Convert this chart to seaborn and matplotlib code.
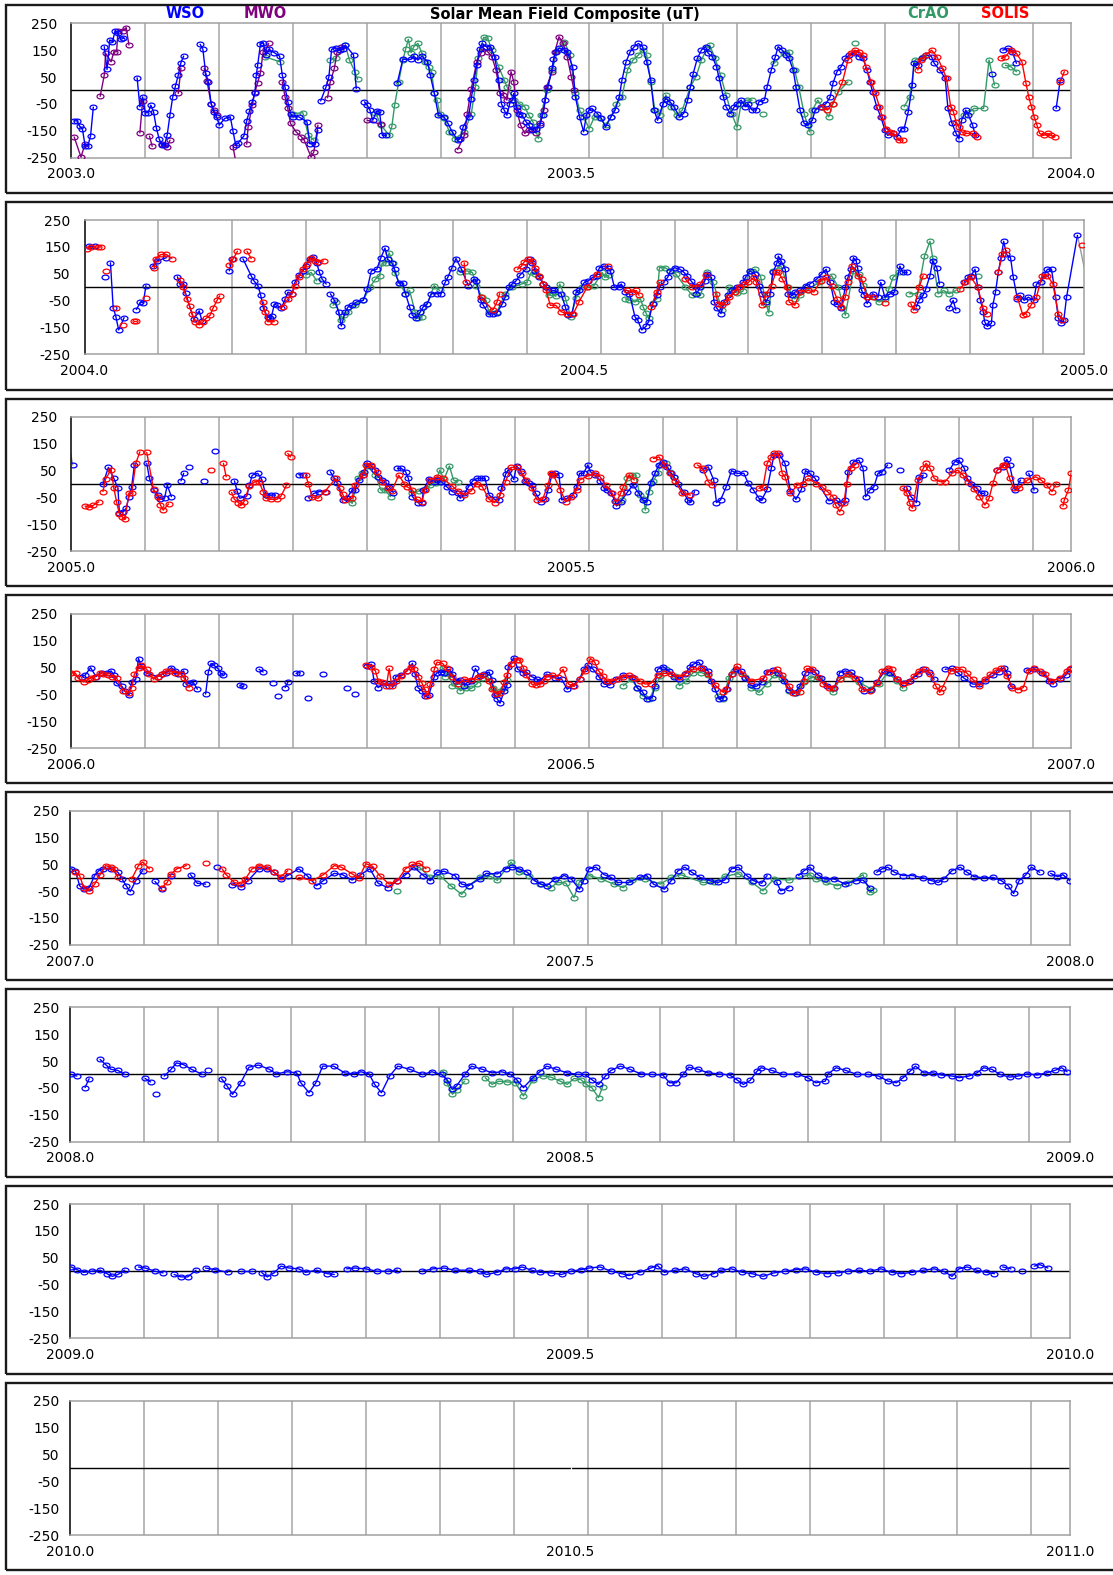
import numpy as np
import pandas as pd
import matplotlib
matplotlib.use("Agg")
import matplotlib.pyplot as plt
import seaborn as sns
from matplotlib.path import Path
from matplotlib.transforms import Affine2D
from matplotlib.patches import Rectangle

# ---------------- data: (day of year, field in uT); None = gap ----------------
WSO_2003 = [(1,-113),(2,-113),(3,-133),(4,-142),(5,-206),(6,-206),(7,-169),(8,-62), None,
    (12,163),(13,78),(14,188),(15,182),(16,223),(17,213),(18,190),(19,194), None,
    (24,47),(25,-61),(26,-24),(27,-83),(28,-83),(29,-55),(30,-80),(31,-139),(32,-179),(33,-204),(34,-204),
    (35,-164),(36,-90),(37,-24),(38,17),(39,56),(40,104),(41,128), None,
    (47,172),(48,153),(49,66),(50,32),(51,-49),(52,-80),(53,-98),(54,-129),(56,-104),(58,-98),(59,-152),
    (60,-204),(61,-194),(63,-169),(64,-113),(65,-77),(66,-42),(67,-11),(67.5,57),(68,94),(69,172),(70,178),
    (71,132),(72,153),(74,141),(76,128),(77,57),(78,11),(79,-42),(80,-86),(81,-98),(83,-98),(86,-117),
    (87,-198),(89,-200),(90,-148), None,
    (91,-39),(93,14),(94,51),(95,153),(96.5,159),(98,150),(99,153),(100,169),(103,132),(104,7), None,
    (107,-42),(108,-55),(109,-73),(110,-111),(111.5,-76),(112.5,-80),(113.5,-167),(115,-167), None,
    (119,29),(121,116),(124,116),(125,128),(126.5,113),(128,128),(130,107),(131,57),(132.5,-11),(134,-92),
    (136,-98),(137.5,-123),(139,-154),(141,-185),(142,-179),(143,-136),(145,-98),(146,-30),(147,39),(148,94),
    (149,153),(150,175),(151.5,163),(153,163),(154.5,126),(156,39),(157,-49),(158,-73),(159,-92),(160,-49),
    (161,-36),(161.5,-11),(162.5,-61),(163.5,-86),(164.5,-92),(166,-117),(167,-129),(168,-148),(169.5,-142),
    (171,-129),(172,-92),(173,-36),(174,14),(175.5,82),(176,116),(177,145),(178,157),(180,150),(181,144),
    (183,88),(184,-24),(185.5,-98),(187,-154),(188,-92),(189,-73),(190,-67),(192,-86),(193.5,-104),(195,-136),
    (197,-98),(198.5,-73),(200,-24),(201,39),(202.5,107),(204,144),(205.5,163),(207,175),(208.5,163),(210,107),
    (211.5,39),(212.7,-73),(214,-111),(216,-49),(217,-30),(218.5,-42),(220,-61),(222,-98),(223.5,-86),(225,-36),
    (226,14),(227,63),(228.5,119),(230,150),(231.5,163),(232.5,138),(234,126),(235.5,88),(236.5,45),(238,-24),
    (239,-61),(240.5,-86),(242,-61),(243,-49),(244.5,-36),(246,-61),(247,-49),(248.5,-73),(250,-73),(251,-42),
    (253,-36),(254,14),(255.5,76),(257,126),(258,163),(259.5,150),(261,132),(262,119),(263.5,76),(264.5,14),
    (266,-73),(267.5,-123),(269,-129),(270.5,-111),(271.5,-73),(273.5,-61),(275.5,-49),(277,-24),(278,26),
    (279.5,70),(281,88),(282.5,119),(284,132),(286,138),(287.5,126),(289,119),(290.5,76),(291.5,32),(292.5,-5),
    (294,-61),(295.5,-98),(297,-148),(298,-167),(300,-160),(301.5,-173),(303,-142),(304,-142),(305.5,-80),
    (307,20),(307.5,101),(309,95),(310.5,119),(312,132),(314,126),(315,101),(317,76),(319,45),(320,-67),
    (321.5,-123),(323,-160),(324,-179),(325,-111),(326.5,-73),(327.5,-92),(329,-129),(330,-167), None,
    (336,63), None, (340,150),(342,157),(343.5,144),(345,101), None, (359.5,-67),(361,39)]

MWO_2003 = [(1,-173),(3.5,-248),(5,-198), None,
    (10.5,-22),(12,57),(12.5,138),(14.5,107),(15.5,144),(16.5,144),(17,223),(19,223),(20,234),(21,169), None,
    (25,-158),(26,-39), None, (28.5,-170),(29.5,-208), None, (33,-198),(35,-210),(36,-185), None,
    (39,-11),(40,82), None,
    (48.5,82),(49.5,35),(51,-49),(52,-73),(53,-90), None, (59,-210),(60,-265), None,
    (64,-200),(64.5,-136),(66,-55),(67,-5),(68,29),(69,66),(70,144),(71,153),(72,175), None,
    (77,32),(78,-24),(79,-67),(80,-123),(82,-154),(84,-173),(85,-185),(87.5,-248),(88.5,-229),(90,-129), None,
    (93.5,-27),(94.5,32),(96,82),(97,144),(98.5,163), None, (108,-111),(113,-126), None,
    (141,-220),(143.5,-167),(144.5,-86),(146,7),(148,107),(149.5,138),(150.5,157),(152,144),(153.5,126),
    (155,76),(156.5,-11),(157.5,-17),(159,-36),(160.5,70),(161.5,32),(162.5,-73),(164,-129),(165.5,-160),
    (167,-148),(168,-142),(169.5,-158),(171,-123),(172.5,-73),(173.5,14),(175.5,70),(176.5,144),(178,200),
    (179.5,175),(181,126),(182.5,51),(183.5,1)]

CRAO_2003 = [(70.5,126),(76,107), None, (81,-86),(84.5,-83),(86.5,-167),(88.5,-185), None,
    (94.5,113),(96.5,119),(100,169),(101.5,113),(103.5,70),(104.5,42), None,
    (111,-83),(113,-129),(116,-167),(117,-133),(118,-55),(119.5,32),(121,113),(122,153),(123,190),(124,141),
    (125,163),(126.5,175),(128,138),(129,107),(130.5,88),(131.5,70),(132.5,-11),(133.5,-36),(134.5,-86),
    (136,-104),(138,-154),(140,-179),(143.5,-154),(146,-86),(147.5,14),(148.5,119),(150.5,198),(152,194),
    (153.5,150),(156,88),(158,39),(159,14),(161.5,-36),(163.5,-49),(165.5,-61),(167,-92),(168.5,-117),
    (170.5,-179),(171.5,-92),(173.5,1),(175.5,76),(177.5,150),(180,182),(182,132),(184,-11),(185.5,-73),
    (187,-98),(189,-142),(191,-98),(193,-104),(195,-129),(197,-98),(199,-49),(201,-24),(203,76),(205,113),
    (207,132),(208.5,150),(210,132),(211.5,32),(213,-73),(215,-92),(217,-17),(219,-61),(221,-92),(223,-73),
    (226,14),(228,51),(230,113),(232,157),(233,169),(235,119),(237,57),(239,-17),(241,-86),(243,-136),
    (244.5,-49),(246.5,-36),(248.5,-36), None, (252.5,-86), None,
    (256.5,101),(260,138),(262,144),(264,76),(265.5,14),(267.5,-86),(269.5,-154),(270.5,-73),(272.5,-36),
    (274,-61),(276.5,-98),(278,-49),(280,-5),(283.5,32), None, (286,175), None,
    (304,-61),(306,-24),(308,113),(311,126), None,
    (326,-92),(328,-80),(329.5,-67),(333,-67),(335,113),(337,20), None, (341,94),(343,88),(345,70)]

SOLIS_2003 = [(274,-61),(276,-73),(278,-49),(281.5,32),(283.5,113),(284.5,138),(286,150),(287.5,144),
    (289,132),(290,88),(292,32),(293.5,-11),(295,-61),(296,-98),(297.5,-142),(299,-154),(300,-160),(302,-185),
    (303.5,-185), None,
    (309,76),(310,113),(312,132),(314,150),(316,126),(318,82),(319.5,45),(321,-61),(322,-80),(323,-117),
    (324,-136),(325,-154),(326.5,-160),(329,-160),(330.5,-173), None,
    (339.5,119),(341,126),(343,150),(345,138),(347,107),(348.5,26),(349.5,-24),(350.5,-61),(351.5,-98),
    (352.5,-129),(353.5,-160),(355,-167),(356.5,-160),(357.5,-167),(359,-173), None, (361,32),(362.5,70)]

WSO_2004 = [(1.5,155),(4,155), None, (7.5,39), None, (9.5,91),(10.5,-76),(11.5,-110),(12.5,-159),(14.5,-113), None,
    (19,-83),(20.5,-55),(21.5,-59),(22.5,6), None, (25,79),(26.5,98),(30,110), None,
    (34,39),(35,12),(36,12),(37,-22),(40,-120),(42,-88),(43,-125), None,
    (53,61),(54,104), None, (58,106),(61,43),(62,24),(63.5,6),(64.5,-30),(65.5,-79),(67,-110),(68,-116),
    (68.5,-107),(69.5,-63),(70.5,-67),(72,-79),(73.5,-43),(74.5,-18),(76,-24),(77,18),(78.5,46),(80,61),
    (81,79),(82.5,107),(83.5,112),(85,91),(86,55),(87,30),(88.5,12), None,
    (90,-24),(91.5,-49),(93,-91),(94,-144),(95.5,-91),(96.5,-73),(98,-67),(99.5,-55),(102,-49),(103.5,-6),
    (105,61),(107,67),(108.5,110),(110,146),(111,104),(112.5,91),(113.5,67),(115,16),(116.5,15),(117.5,-24),
    (119,-73),(120,-104),(121.5,-116),(123,-91),(124,-73),(125.5,-61),(127,-24),(129,-24),(130.5,-24),
    (132,18),(133,37),(134.5,73),(136,107),(138,67),(140.5,6),(142.5,30),(143.5,24),(145,-49),(146,-67),
    (148,-100),(149.5,-98),(151,-95),(153,-61),(154,-37),(155.5,0),(156.5,12),(158,24),(159.5,46),(161.5,67),
    (163,104),(164,91),(165,61),(166.5,37),(168,12),(169,0),(171,-12),(172,-12),(174.5,-24),(176,-73),
    (177,-104),(178.5,-98),(180,-18),(181,-12),(183,18),(184.5,24),(186,37),(187.5,43),(188.5,73),(190,79),
    (191.5,73),(192.5,61),(194,0),(195.5,0),(196.5,12),(198,-18),(199.5,-24),(201.5,-110),(202.5,-122),
    (204,-159),(205.5,-146),(206.5,-128),(208,-61),(209.5,-30),(210.5,0),(212,18),(213.5,37),(214.5,61),
    (216,73),(218,67),(219.5,55),(220.5,43),(222,24),(223.5,6),(224,-24),(225.5,0),(227,24),(228,49),
    (229.5,37),(230.5,-55),(231.5,-79),(233,-98),(234,-55),(235.5,-30),(237,-12),(239,0),(241,18),(242,37),
    (243.5,61),(245.5,49),(247,6),(248,-24),(249.5,-55),(251,-24),(252,55),(253.5,91),(254,116),(255,98),
    (256.5,67),(257.5,-24),(259,-30),(260,-18),(262,-12),(264,6),(265.5,12),(268,30),(270,51),(271.5,67),
    (273,18),(274.5,-55),(275.5,-61),(277,-79),(278.5,0),(279.5,37),(280.5,67),(281.5,110),(282.5,98),
    (283,73),(284.5,-12),(285.5,-30),(286.5,-61),(288.5,-24),(290.5,-37),(291.5,18),(293,-37),(295,-24),
    (296.5,-18),(298.5,79),(299.5,55),(301,55), None,
    (304.5,-73),(305.5,-49),(307,-30),(308,-6),(309.5,43),(310.5,98),(312,73),(313,12), None,
    (316.5,-79),(318,-49),(319,-85), None,
    (322,18),(323.5,37),(324.5,43),(326,67),(327,0),(328,-49),(329,-91),(329.5,-128),(330.5,-146),(332,-134),
    (332.5,-67),(333.5,-18),(334.5,55),(335.5,110),(336.5,171),(337.5,122),(339,110),(340,37),(341.5,-43),
    (342.5,-30),(344,-49),(345.5,-37),(347.5,-49),(348.5,12),(350,18),(351.5,49),(352.5,67),(354,67),
    (355.5,-37),(356.5,-116),(357.5,-134),(358.5,-122),(359.5,-37),(363.5,193)]

SOLIS_2004 = [(1,143),(2.5,149),(5,150),(6,150), None, (8,59), None, (11.5,-76), None, (14,-140), None,
    (18,-126),(19,-126), None, (22.5,-39), None, (25.5,70),(26,106),(28,122),(30,122),(32,107), None,
    (35,27),(36,2),(37.5,-45),(38.5,-71),(39.5,-101),(40.5,-128),(42,-140),(43.5,-128),(44.5,-116),(46,-104),
    (47,-79),(48.5,-49),(49.5,-32), None, (53,83),(54.5,107),(56,134), None, (59.5,134),(61,107), None,
    (65.5,-55),(66,-91),(67,-128),(69.5,-128), None,
    (72.5,-73),(74.5,-43),(76,-24),(77,6),(78.5,37),(80,67),(81.5,85),(83,110),(84.5,98),(85.5,95),(87.5,98), None,
    (139,91),(139.5,18), None, (145,-37),(149.5,-85),(151,-55),(152,-24), None,
    (158.5,67),(160,79),(161,95),(162.5,104),(164,98),(165,73),(166.5,43),(168,12),(169,-12),(170.5,-67),
    (172.5,-67),(174.5,-91),(176.5,-98),(179,-98),(181,-55),(184,0),(187.5,51), None, (191.5,79), None,
    (198.5,-12),(200.5,-18),(202,-12),(203,-30), None, (207.5,-73),(209.5,-18),(210.5,18), None,
    (220,30),(222.5,0),(225.5,12),(227.5,46), None,
    (231,-24),(232,-61),(233.5,-67),(235,-55),(236,-37),(238,-18),(239.5,0),(241.5,12),(243,18),(245,37),
    (246,18),(248,-67),(249.5,-24),(251.5,6),(253,55),(254,55),(255.5,30),(257,0),(258,-55),(260,-67),
    (262,-18),(265,-12),(267,-18),(269.5,24),(271.5,37),(273.5,6),(275.5,-43),(277,-73),(278.5,-37),
    (279.5,18),(281,79),(283,43),(284.5,30),(286.5,-37),(288.5,-37), None, (293,-59), None,
    (302.5,-61),(303.5,-85),(305.5,0),(307,43), None,
    (320.5,-6),(322.5,18),(324.5,37),(327,0),(329,-79),(330.5,-98), None,
    (334.5,55),(336,122),(337.5,137), None,
    (341.5,-37),(343.5,-104),(344.5,-98),(346.5,-67),(348.5,-37),(350.5,43),(352.5,43),(354.5,12),
    (356.5,-98),(358,-122), None, (365,156)]

CRAO_2004 = [(81,46),(83,55),(85,24), None,
    (91,-67),(92,-55),(94,-122),(95,-104),(96.5,-91),(99,-67),(102,-49),(104.5,0),(106.5,30),(108,43),
    (109,91),(110.5,91),(111.5,128),(113,91),(113.5,54),(115.5,12),(117.5,-24),(119,-12),(121,-91),(122,-116),
    (123.5,-110),(125.5,-61),(128,6),(130,-12), None,
    (137.5,55),(140,61),(142,55),(143.5,6),(145.5,-37),(147,-49),(148,-91),(151,-91),(154,-24),(156.5,0),
    (160,12),(162,18),(163.5,55),(165,50),(166.5,43),(168,12),(169,0),(170,-30),(171,-22),(172.5,-34),
    (174,12),(176,-40),(178,-110),(180,-40),(182,0),(184.5,0),(186.5,6),(189.5,55),(190.5,37),(192,45), None,
    (198,-43),(199.5,-48),(201.5,-55),(203.5,-43),(204.5,-73),(205.5,-95),(206.5,-116),(208,-60),(209.5,-43),
    (210.5,73),(212.5,73),(214.5,60),(216.5,49),(220,0),(222.5,-30),(225.5,-30),(228,55),(230,20),
    (233.5,-85),(236,0),(239,-22),(241,-15),(243.5,61),(245.5,67),(247.5,40),(249.5,-61),(250.5,-95),
    (252,61),(255,79),(257.5,0),(260,-43),(262,-30),(265,-10),(269,20),(273.5,43),(276,0),(278.5,-104),
    (281.5,61),(283.5,50),(285,10),(287,-37),(291,-55),(293,-45),(294.5,-6),(296,37),(298,55), None,
    (302,-24),(305,-24),(307.5,116),(309.5,171),(310.5,110),(312.5,-24),(314.5,-12),(316.5,-24),(319,-12), None,
    (327,43)]

COMPOSITE_2004 = [(363.5,193),(366,73)]

WSO_2005 = [(0.5,71), None,
    (11.5,0),(13.5,62),(15.5,21),(17,-16),(17.5,-106),(19,-103),(20,-90),(21,-47),(22,-10),(23,71), None,
    (27.5,77),(28.5,21),(30,-22),(31.5,-41),(32.5,-57),(34,-53),(35,-4),(36.5,-47), None,
    (40,12),(41,40), None, (43,62), None, (48.5,11), None, (52.5,124), None,
    (59.5,12),(60.5,-26),(61.5,-53),(64,-45),(65,-4),(66,33),(68,40),(69.5,17),(71,-41),(73,-41),(74.5,-41), None,
    (83,35),(84.5,33), None, (86.5,-51),(88.5,-35),(90.5,-28),(93,-28), None,
    (94.5,46),(96,21),(97,5),(99,-59),(100.5,-53),(102.5,-22),(103.5,-22),(105,15),(106.5,33),(107,46),
    (108,77),(109.5,67),(111,52),(112,27),(113.5,15),(114.5,9),(116,-10),(117.5,-32), None,
    (119,58),(120.5,58),(122,46),(123,21),(124.5,-47),(126.5,-69),(128,-69),(128.5,-22),(130.5,17),
    (132.5,9),(133.5,15),(135,9),(137,-10),(139,-28),(141,-35),(142,-53),(143.5,-35),(145,-10),(146.5,12),
    (148,21),(149.5,21),(151,21),(152.5,-41),(154.5,-57),(156,-59),(157,-16),(158.5,36),(159.5,54),
    (161.5,17),(162.5,67),(164,50),(165.5,12),(167,5),(168,-4),(169.5,-35),(171.5,-66),(173,-57),(174,-22),
    (175.5,37),(176.5,40),(178,33),(179,-59),(181,-53),(183,-41),(184.5,-10),(185.5,40),(187,40),(188.5,71),
    (189.5,46),(191,33),(193,12),(194.5,-16),(195.5,-22),(197,-35),(198.5,-62),(199,-82),(200.5,-66),
    (203,-30),(205,-4),(207,-32),(208.5,-59),(210,-66),(211.5,5),(213,40),(214.5,71),(216,83),(217.5,64),
    (219,40),(220,27),(221.5,2),(223.5,-30),(225,-59),(226,-66),(227.5,-28), None,
    (230.5,54),(232.5,64),(234.5,15),(235.5,-69),(237,-59),(239,-12),(241,50),(243,40),(245.5,40),(247,5),
    (249,-22),(251,-53),(252,-59),(254,-20),(255.5,58),(256.5,108),(258.5,110),(260.5,77),(262.5,-25),
    (264.5,-57),(266.5,-20),(268,50),(269.5,40),(271.5,21),(276.5,-62),(279,-59),(281,-72),(282.5,-59),
    (283.5,46),(285.5,83),(287.5,89),(289,58),(290,-47),(291.5,-22),(293,-10),(294.5,40),(296,46),(298,71), None,
    (302.5,52), None, (305,-16),(306.5,-47),(308.5,-69),(309.5,27),(311,33), None,
    (320.5,52),(322.5,83),(324,89),(326,58),(327,21),(328.5,2),(330.5,-16),(332,-35),(333,-35), None,
    (338,52),(340,64),(341.5,92),(342.5,71),(344.5,-22),(346.5,15), None, (349.5,40),(351.5,-22)]

SOLIS_2005 = [(5,-82),(6.5,-87),(8,-79),(10,-66), None,
    (11.5,-28),(12.5,19),(14.5,54),(15.5,-16),(16.5,-66),(17.5,-111),(18.5,-121),(19.5,-131),(21,-35),
    (22,-35),(23.5,77),(25,120), None, (27.5,118),(30,-20),(31.5,-47),(32.5,-78),(33.5,-97),(35.5,-74), None,
    (51,54), None, (55.5,77),(56.5,27), None,
    (58.5,-31),(59.5,-57),(61,-69),(62,-78),(63,-66),(65,-7),(67,9),(68.5,9),(70,-28),(71,-53),(73,-57),
    (75,-57),(76.5,-45),(78.5,-5), None, (79,114),(80,101), None,
    (85.5,33),(86.5,2),(88,-50),(90,-53),(92.5,-28),(96.5,21),(98,-16),(99,-37),(100,-59),(102.5,-53),
    (103.5,-4),(106.5,33),(107.5,71),(109.5,71),(111.5,46),(113.5,9),(115.5,-16),(117,-25),(119.5,33),
    (121.5,2),(122.5,-10),(124.5,-22),(126,-57),(128,-66),(129,-22),(131,15),(133.5,27),(135.5,21),(139,-7),
    (141,-25),(143.5,-41),(146,-25),(148,2),(150,-10),(152.5,-57),(154.5,-69),(156.5,-41),(158.5,9),
    (160.5,62),(162.5,62),(164.5,40),(166,15),(168,-16),(170,-59),(172,-57),(174,-4),(175,40),(176,33),
    (178.5,-22),(180.5,-66),(182.5,-50),(184.5,-22),(185.5,15),(188.5,30),(191,40),(193,27),(195,-4),
    (197.5,-35),(199,-66),(200.5,-35),(201.5,-10),(203.5,33),(205.5,15), None,
    (212.5,95),(214.5,101),(216.5,71),(218.5,40),(220.5,12),(223,-35),(226,-41), None,
    (228.5,71),(230.5,58),(232.5,9),(234,-4), None,
    (251,-16),(252.5,-10),(254,77),(255.5,101),(256.5,114),(258,114),(259.5,40),(260.5,27),(262.5,-35),
    (265,-4),(267,2),(269,21),(272,2),(274,-10),(276,-28),(278,-47),(279,-78),(280.5,-103),(282,-72),
    (283,2),(284.5,58),(286,71), None,
    (303.5,-16),(305,-35),(306,-72),(307,-90),(309,15),(311,58),(312,77),(313.5,58),(315,21),(317,9),
    (319,9),(321.5,40),(323.5,52),(325.5,33),(327.5,9),(329.5,-20),(331.5,-47),(333.5,-78),(335,-53),
    (336.5,5),(338,52),(340,71),(341,71),(342.5,21),(344,-16),(346,-16),(349,15),(352,27),(354,15),
    (356,-4),(358,-28),(359.5,2), None, (362,-82),(362.5,-59),(364,-22),(365,40)]

CRAO_2005 = [(100.5,-53),(102.5,-72),(104.5,21),(106,40),(108,67),(111,33),(113,-22),(114.5,-22),(116.5,-47), None,
    (124.5,-35),(127,-25),(129,-20),(131,-5),(133,5),(134.5,52),(136,17),(138,67),(139.5,15),(141,9), None,
    (199.5,-66),(201,-60),(203,21),(204.5,33),(206,33),(207.5,-41),(209,-57),(209.5,-97),(211,-28),
    (212.5,12),(214,40),(215,71),(217,77),(218.5,45),(220,27)]

COMPOSITE_2005 = [(-1,150),(0.5,71)]

WSO_2006 = [(4,16),(5,21),(7,49),(9,16),(11,31),(13,28),(14.5,37),(15.5,21),(16.5,-9),(18.5,-21),
    (19.5,-37),(21,-53),(22,-4),(23.5,6),(24.5,83),(25.5,55),(27.5,28),(31.5,16),(33,25),(34.5,31),
    (36.5,49),(38,37),(39,25),(41,37),(42,-12),(43,-9),(44.5,-6),(46,-31), None,
    (49,-49),(50,33),(51,65),(52,58),(53.5,46),(54.5,28),(55.5,21), None, (61.5,-16),(62.5,-21), None,
    (68.5,43),(70,33), None, (73.5,-9), None, (75.5,-58), None, (78,-25),(79,-6), None, (82,28),(83.5,31), None,
    (86.5,-63), None, (92,25), None, (100.5,-25), None, (103.5,-49), None,
    (108,55),(109.5,62),(110.5,0),(112,-25),(114,-9),(116,-18),(117.5,-9),(118.5,16),(120.5,21),(122.5,37),
    (124.5,65),(125.5,25),(126.5,-25),(128,-37),(129,-58),(130.5,-53),(132.5,16),(133.5,31),(135,33),
    (136,31),(138,43),(139,25),(140.5,0),(142,4),(143.5,-18),(144.5,-6),(146,0),(147.5,46),(149,18),
    (150.5,25),(152.5,33),(153.5,4),(154.5,-53),(155.5,-68),(156.5,-83),(158,-37),(159,-16),(159.5,53),
    (161.5,86),(163,43),(165,31),(166,33),(168,16),(170,6),(171,0),(173.5,25),(176.5,12),(179,6),(181,-31),
    (183,-18),(185.5,6),(187,43),(188.5,58),(190.5,43),(192.5,16),(194.5,-12),(196.5,-16),(199,6),(201.5,21),
    (204.5,16),(206.5,-25),(208.5,-41),(210,-68),(212,-62),(213,-18),(214,43),(216,53),(218,37),(220,16),
    (222,6),(224,25),(226,53),(227,62),(229,70),(230.5,49),(232.5,37),(233.5,0),(235,-31),(236.5,-68),
    (238,-62),(239.5,-31),(241,25),(242.5,43),(244.5,37),(246,12),(248,-16),(250,-21),(252,-6),(254,33),
    (256,40),(258,31),(260,0),(262,-33),(264,-46),(266,-18),(268,31),(269.5,40),(271.5,33),(273.5,9),
    (276,-18),(278.5,-25),(280.5,31),(282.5,37),(284.5,33),(287.5,6),(289.5,-37),(292,-33),(294,-6),(297,37),
    (299,31),(301.5,6),(304,-9),(306,0),(309,25),(311,43),(313,33),(315,6), None,
    (319,43),(321.5,46),(323.5,31),(326,9),(329,-12),(331.5,-12),(333.5,0),(336.5,21),(338.5,33),(340.5,49),
    (341.5,31),(343,-18), None, (349,40),(351.5,43),(354.5,31),(357,0),(358.5,-12), None,
    (361,6),(363,21),(364.5,43)]

SOLIS_2006 = [(0,31),(1.5,28),(2.5,9),(4.5,-4),(6,4),(7,12),(8.5,16),(10.5,28),(11.5,25),(13.5,21),(15,16),
    (16.5,9),(19,-37),(21,-46),(22,-25),(23,25),(24.5,46),(25.5,58),(27.5,43),(28.5,25),(30,6),(31.5,16),
    (33,25),(34.5,37),(36,37),(38,31),(40,25),(41,12),(43,-25), None,
    (107.5,58),(109.5,53),(111,37),(112,0),(113.5,-6),(115,-18),(116,46),(117,-21),(118.5,0),(120.5,18),
    (122.5,37),(124,53),(125,43),(126.5,16),(128,-9),(129,-31),(130,-58),(131,-12),(132.5,43),(133.5,70),
    (135.5,65),(137,46),(139,16),(141,-12),(143.5,6),(146,4),(148.5,16),(150,21),(152.5,0),(153.5,-31),
    (155,-49),(156.5,-46),(158,-4),(159,21),(160.5,62),(162.5,78),(163.5,78),(165,49),(166,21),(168,-12),
    (169.5,-16),(171,-12),(172.5,0),(173.5,16),(175.5,21),(177.5,16),(179.5,43),(181.5,-12),(183.5,-21),
    (185.5,6),(187.5,37),(189.5,83),(191,70),(192.5,37),(194,18),(195.5,0),(197.5,0),(199.5,6),(201.5,16),
    (203.5,21),(205.5,12),(207.5,0),(209.5,-12),(211.5,-10),(214,21),(216.5,28),(219,25),(222,16),
    (224.5,28),(227,43),(230,46),(232.5,25),(235,-16),(238,-43),(239,-31),(241,25),(243,55),(245,25),
    (248,0),(252.5,9),(254.5,33),(257.5,43),(259.5,21),(262,-18),(263.5,-46),(266,-41),(267.5,0),(268.5,46),
    (270.5,43),(272.5,16),(274.5,-12),(276.5,-25),(278,-28),(280.5,6),(283.5,25),(286,12),(288.5,-31),
    (291.5,-37),(294,-9),(296,37),(298,49),(299.5,43),(301.5,6),(303.5,-12),(305.5,-6),(307.5,18),
    (309.5,37),(311.5,43),(313.5,25),(315.5,-18),(317,-43),(318,-25),(321,37),(323,43),(325,43),(327,28),
    (329,6),(331.5,-18),(333.5,6),(335.5,25),(337.5,40),(339.5,46),(341.5,18),(343.5,-25),(345.5,-33),
    (347.5,-25),(349.5,37),(351.5,46),(353.5,37),(355.5,25),(357.5,0),(361,9),(363.5,37),(365,46)]

CRAO_2006 = [(135.5,49),(136.5,16),(138,25),(139,-18),(141,-21),(142,-37),(144,-25),(146,-28),(148,-12),
    (150,12),(152,15),(154,-25),(155.5,-46),(156.5,-37),(158,-25),(159,4), None,
    (201.5,-18),(204.5,6),(206.5,-25),(208.5,-55),(211,-68),(213,-25),(215,18),(217,43),(220.5,18),
    (222,-18),(224.5,0),(227,31),(230,31),(232.5,20),(236,-55),(238,-68),(240,12),(242,37),(246,15),
    (248,-25),(251,-43),(254,-10),(256.5,21),(259.5,10),(262,-37),(264.5,-46),(267.5,-5),(270,12),(273,12),
    (278,-43),(280.5,6),(284.5,20),(287.5,-5),(292,-31),(295,-10),(298,31),(301.5,0),(303.5,-28)]

WSO_2007 = [(0.5,33),(2,26),(3.5,-30),(5,-43),(7,-37),(9,8),(10.5,26),(12,33),(15,33),(17.5,20),(19,-5),
    (20.5,-30),(22,-52),(24,-11),(26.5,26), None, (31,-14),(33.5,-43), None, (37,8), None,
    (44,11),(46.5,-21),(49.5,-24), None, (53.5,39), None,
    (59,-26),(62.5,-34),(65,-11),(69,33),(72,33),(74.5,20),(77,-5),(79.5,8),(83.5,33),(86.5,8),(90,-30),
    (92.5,-11),(96.5,16),(99.5,11),(103,-9),(106,11),(109.5,33),(112.5,-21),(116,-37),(119.5,-11),
    (122.5,11),(125.5,39),(129,8),(131.5,-11),(134,20),(136.5,24),(140.5,8),(143,-24),(145.5,-30),
    (149.5,-5),(152,16),(156,14),(159,33),(161.5,39),(164,33),(167,20),(169.5,-11),(172,-24),(174,-30),
    (177,-5),(180.5,8),(183,-5),(186,-43),(187.5,-11),(189.5,33),(192,39),(195,11),(197.5,1),(200,-18),
    (204,-18),(208,1),(210.5,8),(213,-24),(217,-43),(219.5,-11),(222,26),(224.5,39),(227,20),(230,1),
    (233.5,-11),(236.5,-18),(239,-9),(241.5,33),(244,39),(247,8),(249.5,-11),(252.5,-21),(254.5,8), None,
    (258,-18),(259.5,-49),(262.5,-37), None,
    (266,8),(268,26),(270,39),(273,11),(275.5,-5),(279,-5),(283,-24),(287,-11),(289.5,-9),(292,-37), None,
    (294.5,20),(296.5,33),(298.5,39),(301,20),(304,8),(307.5,8),(311.5,-1),(314.5,-11),(317,-18),(319,-5),
    (322,26),(325,39),(327.5,20),(330,4),(333.5,-1),(337,1),(340,-11),(342.5,-30),(344.5,-59),(346.5,-11),
    (349,11),(351,39),(354,20), None, (358,16),(360.5,4),(362.5,11),(365,-11)]

SOLIS_2007 = [(2,20),(3.5,8),(5,-37),(7,-49),(9,-24),(11,11),(13,45),(15,39),(16,33),(17.5,1), None,
    (22.5,-5),(25,45),(26.5,58),(29,33), None, (33.5,-37),(35.5,-18),(37,14),(39,33),(42.5,45), None,
    (49.5,54), None,
    (55.5,33),(57,11),(60,-18),(62.5,-24),(64,-5),(66.5,33),(69,45),(72,39),(74.5,20),(77,4),(79.5,26), None,
    (83.5,1),(88.5,-11),(92.5,11),(96.5,45),(99,39),(103,14),(105.5,-1),(108,52),(110.5,42),(113,8),
    (116.5,-24),(119.5,-11),(122.5,33),(125,49),(127.5,54),(130,33)]

CRAO_2007 = [(119.5,-49), None,
    (127.5,39),(131.5,1),(135,8),(139,-30),(143,-62),(145.5,-30),(149.5,1),(153.5,5),(156,-10),(161,58),
    (164,20),(167.5,8),(171.5,-24),(175.5,-37),(178,-18),(181,-20),(184,-74),(186,-15),(189.5,8),(194,-5),
    (198.5,-24),(202,-37),(205,-10),(210,-5),(215.5,-24),(219.5,1),(223,11),(231,-18),(235,-18),(239,5),
    (244,15),(249,-18),(253,-49),(257,-5),(262.5,-9),(270,11),(272.5,-5),(276,-18),(280,-30),(284,-20),
    (289.5,11),(292,-55),(293,-45)]

WSO_2008 = [(0.5,0),(2.5,-6), None, (5.5,-49),(7,-16), None,
    (11,56),(13,37),(15,19),(17.5,15),(20,0), None, (27.5,-15),(29.5,-28), None, (31.5,-74), None,
    (34.5,-6),(37,19),(39,43),(41.5,37),(44.5,19),(48.5,0), None, (50.5,15), None,
    (55.5,-16),(57.5,-43),(59.5,-74),(62.5,-31),(65.5,27),(69,35),(73,19),(75.5,2),(79.5,10),(83,6),
    (84.5,-31),(87.5,-68),(90,-31),(92.5,31),(96.5,31),(100.5,6),(104,2),(106.5,10),(109.5,2),(111.5,-37),
    (114,-68),(117,-6),(120,31),(124.5,19),(129,0),(132.5,10),(136,0),(138,-19),(140,-56),(141.5,-43),
    (144.5,0),(147,31),(151,19),(154.5,6),(158,10),(161,2),(163.5,-19),(166,-49),(169.5,-12),(172,10),
    (174.5,31),(178,19),(182,6),(186,0),(188.5,0),(191,-19),(193.5,-37),(196,-6),(198,15),(201.5,31),
    (205,19),(209,2),(213,0),(217,-2),(219.5,-31),(222,-31),(224.5,0),(226.5,27),(230,19),(233.5,6),
    (237.5,2),(241.5,-2),(244,-19),(246.5,-37),(249,-22),(251.5,12),(253,25),(257,15),(261,0),(266,2),
    (270,-12),(273,-31),(276.5,-25),(277.5,2),(280.5,25),(284,15),(288,0),(292,0),(296,-6),(299.5,-25),
    (302.5,-31),(305,-12),(307.5,12),(309.5,31),(312.5,6),(316,6),(319,-2),(323,-6),(325.5,-12),(329,-6),
    (332,6),(334.5,25),(337.5,19),(340.5,0),(344,-10),(347,-6),(350.5,2),(354,-2),(357.5,6),(360.5,15),
    (363,25),(365,10)]

CRAO_2008 = [(136.5,10),(138,-31),(140,-74),(141.5,-59),(144.5,-25), None,
    (152,-12),(154.5,-37),(157,-25),(160,-28),(163,-30),(166,-80),(169.5,-19),(173,-5),(176,-10),
    (179.5,-25),(182,-37),(184.5,-15),(187,-19),(189,-37),(191,-49),(193.5,-86),(195,-45)]

WSO_2009 = [(0.5,16),(2.5,6),(5,-4),(8,0),(11,4),(13.5,-9),(15.5,-19),(17.5,-12),(20,4), None,
    (25,16),(27.5,12),(31,0),(34,-6), None, (38,-12),(40.5,-21),(43,-21),(46,4), None,
    (49.5,12),(53,6),(57.5,-4), None, (62.5,0),(66.5,0), None,
    (70,-5),(72,-21),(74.5,-6),(77,19),(80,12),(83.5,9),(86,-4),(90,4),(94,-9),(96.5,-12), None,
    (101,9),(104,12),(108,9),(112,0),(116,0),(119.5,4), None,
    (128.5,0),(132.5,9),(136.5,12),(140.5,4),(145.5,4),(149.5,0),(152,-12),(156,-4),(159,9),(162.5,9),
    (165,16),(168.5,4),(171.5,-4),(175.5,-6),(179.5,-12),(183,0),(186.5,6),(189.5,12),(193.5,16),(197.5,0),
    (201.5,-9),(204,-16),(208,-4),(212,12),(214.5,21),(217,-4),(221,4),(224.5,9),(228.5,-9),(231.5,-19),
    (235,-9),(237.5,4),(241.5,9),(245.5,-4),(249,-9),(253,-19),(257,-6),(261,0),(265,6),(268.5,9),
    (272.5,-4),(276.5,-9),(280.5,-6),(284,0),(288,4),(292,0),(296,9),(300,-4),(303.5,-9),(307.5,-4),
    (311.5,4),(315.5,9),(319,0),(322,-19),(324.5,9),(327.5,16),(331,4),(334.5,-4),(337.5,-9), None,
    (340.5,16),(343.5,9), None, (347.5,0), None, (352,19),(354,25),(357,12)]

MARK_2010 = [(183,-8)]

YEARS = [2003, 2004, 2005, 2006, 2007, 2008, 2009, 2010]
PANELS = {
    2003: {"CrAO": CRAO_2003, "MWO": MWO_2003, "WSO": WSO_2003, "SOLIS": SOLIS_2003},
    2004: {"CrAO": CRAO_2004, "WSO": WSO_2004, "SOLIS": SOLIS_2004},
    2005: {"CrAO": CRAO_2005, "WSO": WSO_2005, "SOLIS": SOLIS_2005},
    2006: {"CrAO": CRAO_2006, "WSO": WSO_2006, "SOLIS": SOLIS_2006},
    2007: {"CrAO": CRAO_2007, "WSO": WSO_2007, "SOLIS": SOLIS_2007},
    2008: {"CrAO": CRAO_2008, "WSO": WSO_2008},
    2009: {"WSO": WSO_2009},
    2010: {},
}
COMPOSITE = {2004: COMPOSITE_2004, 2005: COMPOSITE_2005}
COLORS = {"WSO": "#0000ff", "MWO": "#800080", "CrAO": "#339966", "SOLIS": "#ff0000"}

# ---------------- helpers ----------------
def to_frame(points):
    rows, seg = [], 0
    for p in points:
        if p is None:
            seg += 1
            continue
        rows.append((p[0], p[1], seg))
    return pd.DataFrame(rows, columns=["day", "value", "seg"])

ELLIPSE = Affine2D().scale(1.45, 1.0).transform_path(Path.unit_circle())

sns.set_theme(style="white")
plt.rcParams["font.family"] = ["DejaVu Sans"]

W, H = 1113, 1575
fig = plt.figure(figsize=(W / 100, H / 100), dpi=100)

PITCH = 196.8
lefts = [71.4, 84.5, 71.4, 71.4, 70.0, 70.0, 70.0, 70.0]
for i, yr in enumerate(YEARS):
    top = 23.3 + i * PITCH
    hgt = 134.3
    left = lefts[i]
    wid = 999.8
    ftop = 5 + i * PITCH
    fig.patches.append(Rectangle((6.4 / W, 1 - (ftop + 187.7) / H), (1125 - 6.4) / W, 187.7 / H,
                                 transform=fig.transFigure, fill=False, lw=1.7, ec="#1a1a1a", zorder=0))
    ax = fig.add_axes([left / W, 1 - (top + hgt) / H, wid / W, hgt / H])
    ndays = 366 if yr % 4 == 0 else 365
    ax.set_xlim(0, ndays)
    ax.set_ylim(-250, 250)
    ax.set_axisbelow(True)
    ax.set_xticks([27 * k for k in range(1, 14) if 27 * k < ndays], minor=True)
    ax.grid(which="minor", axis="x", color="#a6a6a6", lw=1.1)
    ax.grid(which="major", axis="both", visible=False)
    ax.set_xticks([0, ndays / 2, ndays])
    ax.set_xticklabels([f"{yr}.0", f"{yr}.5", f"{yr + 1}.0"])
    ax.set_yticks([-250, -150, -50, 50, 150, 250])
    ax.set_yticklabels(["-250", "-150", "-50", "50", "150", "250"])
    ypad = 6.5 if i < 4 else 4.0
    ax.tick_params(axis="y", which="major", direction="out", length=3.5, width=0.9, color="black",
                   pad=ypad, labelsize=10, labelcolor="black")
    ax.tick_params(axis="x", which="both", length=0, pad=7.0, labelsize=10, labelcolor="black")
    for s in ["top", "right", "bottom"]:
        ax.spines[s].set_color("#a0a0a0")
        ax.spines[s].set_linewidth(1.1)
    ax.spines["left"].set_color("black")
    ax.spines["left"].set_linewidth(1.1)
    ax.axhline(0, color="black", lw=1.0, zorder=1.5)

    if yr in COMPOSITE:
        dfc = to_frame(COMPOSITE[yr])
        sns.lineplot(data=dfc, x="day", y="value", units="seg", estimator=None, sort=False,
                     color="#9a9a9a", lw=1.0, ax=ax, legend=False, zorder=2)
    for name, pts in PANELS[yr].items():
        df = to_frame(pts)
        c = COLORS[name]
        sns.lineplot(data=df, x="day", y="value", units="seg", estimator=None, sort=False,
                     color=c, lw=1.0, marker=ELLIPSE, markersize=5.0, markerfacecolor="none",
                     markeredgecolor=c, markeredgewidth=0.9, ax=ax, legend=False, zorder=3)
    if yr == 2010:
        df = to_frame(MARK_2010)
        sns.lineplot(data=df, x="day", y="value", units="seg", estimator=None, sort=False,
                     color="black", marker="|", markersize=4, markeredgewidth=0.8, ax=ax, legend=False)
    ax.set_xlabel("")
    ax.set_ylabel("")

fig.text(565 / W, 1 - 14 / H, "Solar Mean Field Composite (uT)", ha="center", va="center",
         fontsize=10.5, fontweight="bold", color="black")
for label, xc in [("WSO", 185), ("MWO", 265), ("CrAO", 928), ("SOLIS", 1005)]:
    fig.text(xc / W, 1 - 14 / H, label, ha="center", va="center", fontsize=10.5,
             fontweight="bold", color=COLORS[label])

fig.savefig("out.png", dpi=100)
